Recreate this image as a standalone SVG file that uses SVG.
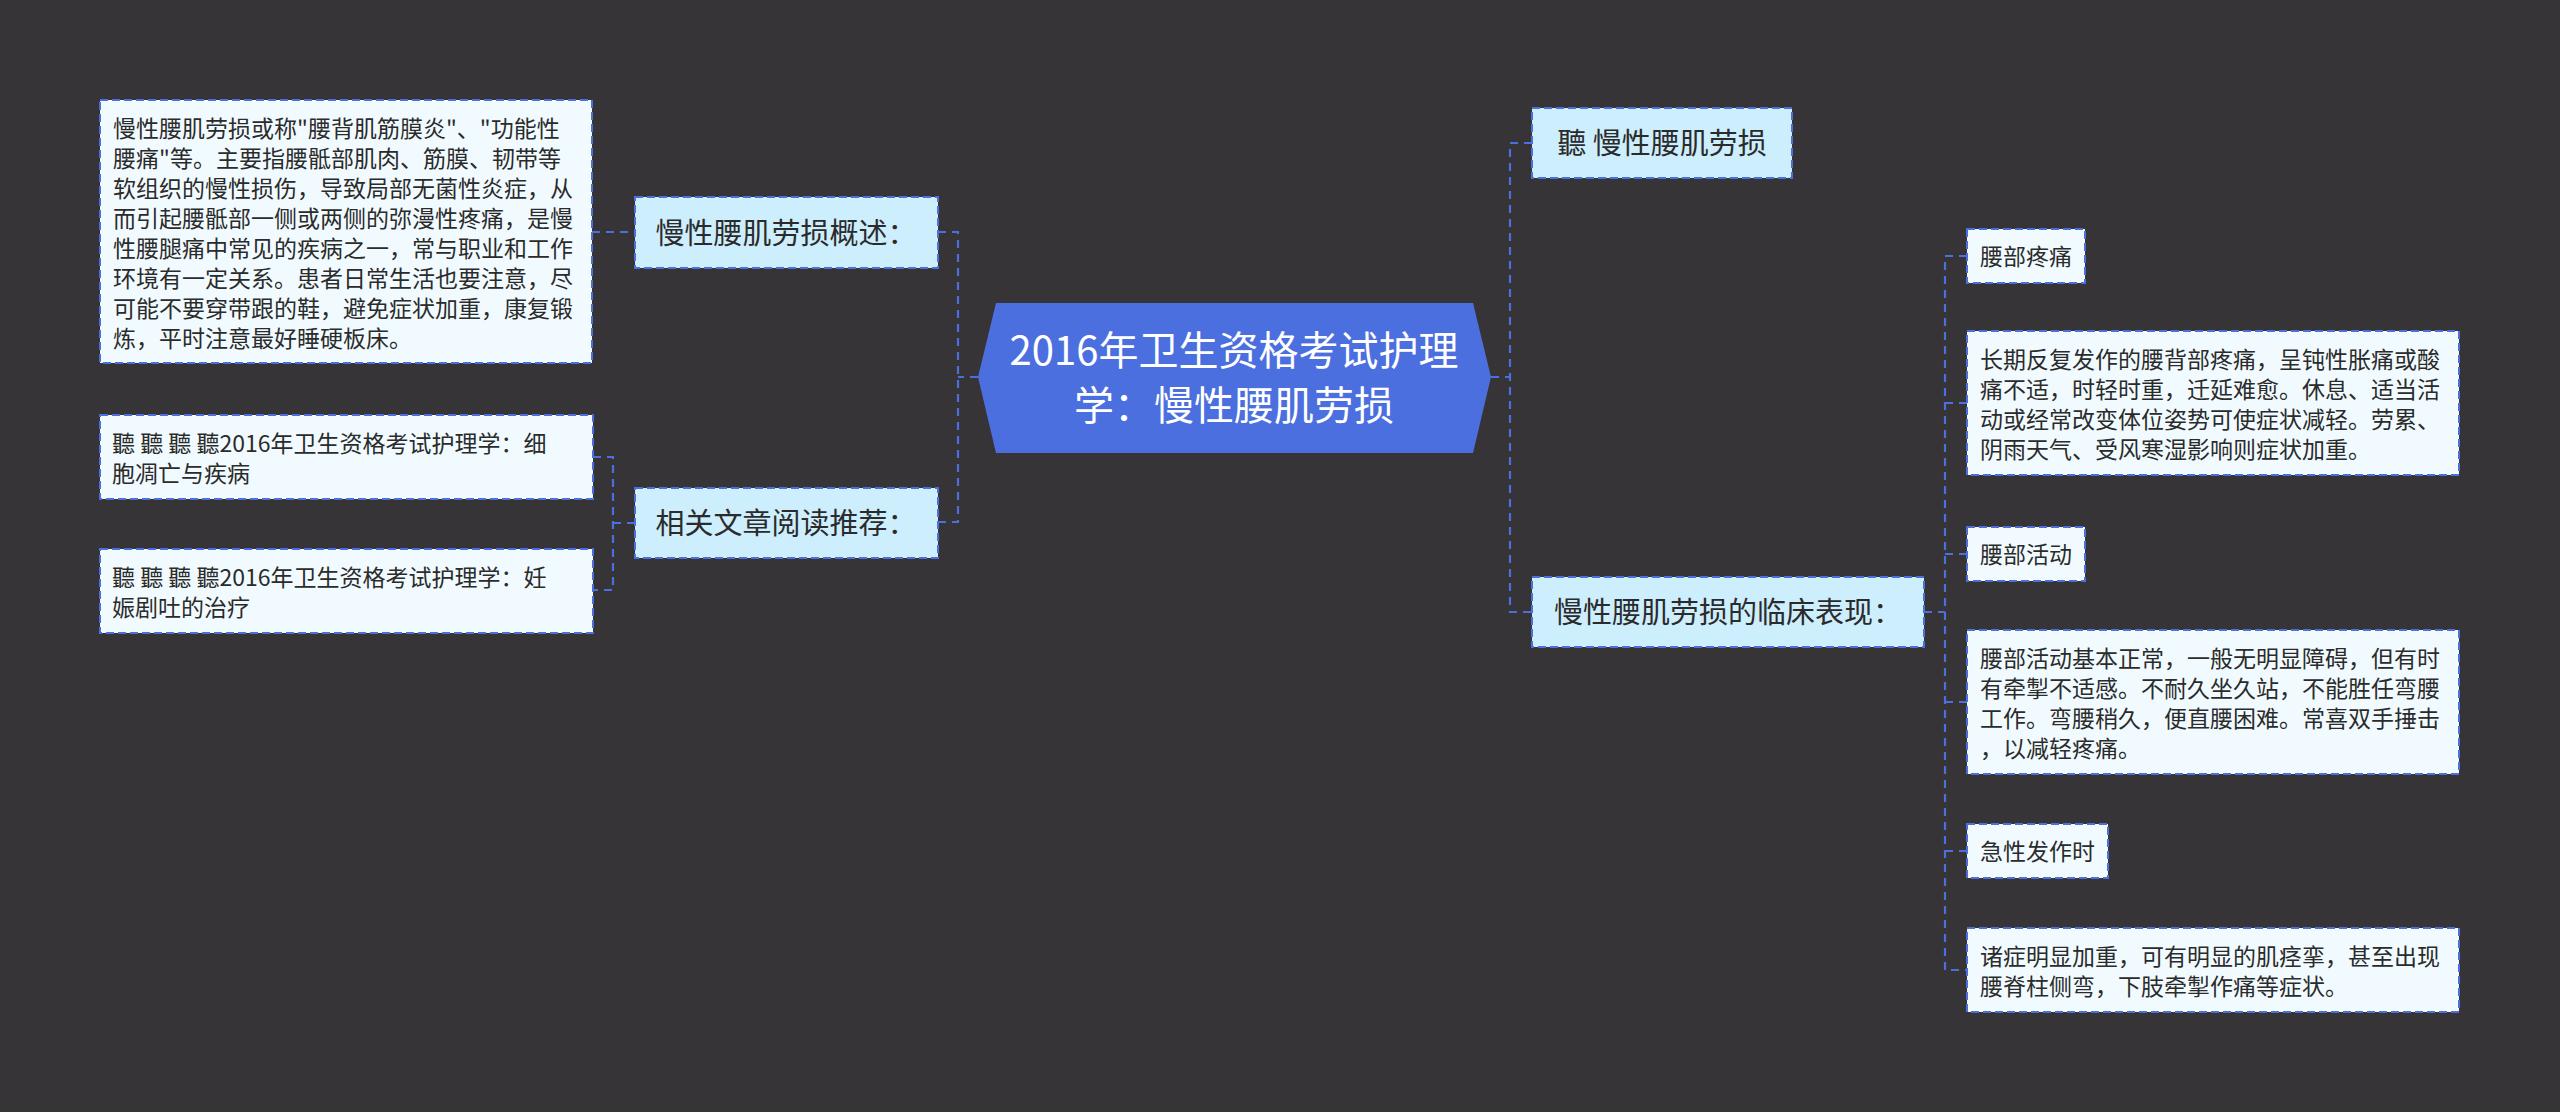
<svg xmlns="http://www.w3.org/2000/svg" width="2560" height="1112" viewBox="0 0 2560 1112">
<style>
text{font-family:"Noto Sans CJK SC","Noto Sans",sans-serif;fill:#2b2b2b}
.l1 rect{fill:#cdeefd;stroke:#4b6fdc;stroke-width:2;stroke-dasharray:8 4}
.l2 rect{fill:#f1fbff;stroke:#4b6fdc;stroke-width:2;stroke-dasharray:8 4}
.l1 text{font-size:29px;text-anchor:middle}
.l2 text{font-size:23px}
.conn path{fill:none;stroke:#4b6fdc;stroke-width:2.2;stroke-dasharray:8 6}
</style>
<rect width="2560" height="1112" fill="#363436"/>
<g class="conn">
<path d="M978,377 H958"/>
<path d="M938,232 H958 V522 H938"/>
<path d="M592,232 H635"/>
<path d="M593,457 H613 V590 H593"/>
<path d="M613,523 H635"/>
<path d="M1491,377 H1510"/>
<path d="M1532,143 H1510 V612 H1532"/>
<path d="M1924,612 H1945"/>
<path d="M1967,256 H1945 V970 H1967"/>
<path d="M1945,403 H1967"/>
<path d="M1945,554 H1967"/>
<path d="M1945,702 H1967"/>
<path d="M1945,851 H1967"/>
</g>
<g id="root">
<polygon points="978,377 996,303 1473,303 1491,377 1473,453 996,453" fill="#4c6fe0"/>
<text x="1234" y="365" font-size="40" text-anchor="middle" style="fill:#ffffff">2016年卫生资格考试护理</text>
<text x="1234" y="420" font-size="40" text-anchor="middle" style="fill:#ffffff">学：慢性腰肌劳损</text>
</g>
<g id="n-overview" class="l1">
<rect x="635" y="197" width="303" height="71"/>
<text x="786" y="244">慢性腰肌劳损概述：</text>
</g>
<g id="n-overview-text" class="l2">
<rect x="100" y="100" width="492" height="263"/>
<text x="113" y="137">慢性腰肌劳损或称"腰背肌筋膜炎"、"功能性</text>
<text x="113" y="167">腰痛"等。主要指腰骶部肌肉、筋膜、韧带等</text>
<text x="113" y="197">软组织的慢性损伤，导致局部无菌性炎症，从</text>
<text x="113" y="227">而引起腰骶部一侧或两侧的弥漫性疼痛，是慢</text>
<text x="113" y="257">性腰腿痛中常见的疾病之一，常与职业和工作</text>
<text x="113" y="287">环境有一定关系。患者日常生活也要注意，尽</text>
<text x="113" y="317">可能不要穿带跟的鞋，避免症状加重，康复锻</text>
<text x="113" y="347">炼，平时注意最好睡硬板床。</text>
</g>
<g id="n-related" class="l1">
<rect x="635" y="488" width="303" height="70"/>
<text x="786" y="534">相关文章阅读推荐：</text>
</g>
<g id="n-article1" class="l2">
<rect x="100" y="415" width="493" height="84"/>
<text x="112" y="452">聽 聽 聽 聽2016年卫生资格考试护理学：细</text>
<text x="112" y="482">胞凋亡与疾病</text>
</g>
<g id="n-article2" class="l2">
<rect x="100" y="549" width="493" height="84"/>
<text x="112" y="586">聽 聽 聽 聽2016年卫生资格考试护理学：妊</text>
<text x="112" y="616">娠剧吐的治疗</text>
</g>
<g id="n-title" class="l1">
<rect x="1532" y="108" width="260" height="70"/>
<text x="1662" y="154">聽 慢性腰肌劳损</text>
</g>
<g id="n-clinical" class="l1">
<rect x="1532" y="577" width="392" height="70"/>
<text x="1728" y="623">慢性腰肌劳损的临床表现：</text>
</g>
<g id="n-pain" class="l2">
<rect x="1967" y="229" width="118" height="54"/>
<text x="1980" y="265">腰部疼痛</text>
</g>
<g id="n-pain-text" class="l2">
<rect x="1967" y="331" width="492" height="144"/>
<text x="1980" y="368">长期反复发作的腰背部疼痛，呈钝性胀痛或酸</text>
<text x="1980" y="398">痛不适，时轻时重，迁延难愈。休息、适当活</text>
<text x="1980" y="428">动或经常改变体位姿势可使症状减轻。劳累、</text>
<text x="1980" y="458">阴雨天气、受风寒湿影响则症状加重。</text>
</g>
<g id="n-activity" class="l2">
<rect x="1967" y="527" width="118" height="54"/>
<text x="1980" y="563">腰部活动</text>
</g>
<g id="n-activity-text" class="l2">
<rect x="1967" y="630" width="492" height="144"/>
<text x="1980" y="667">腰部活动基本正常，一般无明显障碍，但有时</text>
<text x="1980" y="697">有牵掣不适感。不耐久坐久站，不能胜任弯腰</text>
<text x="1980" y="727">工作。弯腰稍久，便直腰困难。常喜双手捶击</text>
<text x="1980" y="757">，以减轻疼痛。</text>
</g>
<g id="n-acute" class="l2">
<rect x="1967" y="824" width="141" height="54"/>
<text x="1980" y="860">急性发作时</text>
</g>
<g id="n-acute-text" class="l2">
<rect x="1967" y="928" width="492" height="84"/>
<text x="1980" y="965">诸症明显加重，可有明显的肌痉挛，甚至出现</text>
<text x="1980" y="995">腰脊柱侧弯，下肢牵掣作痛等症状。</text>
</g>
</svg>
